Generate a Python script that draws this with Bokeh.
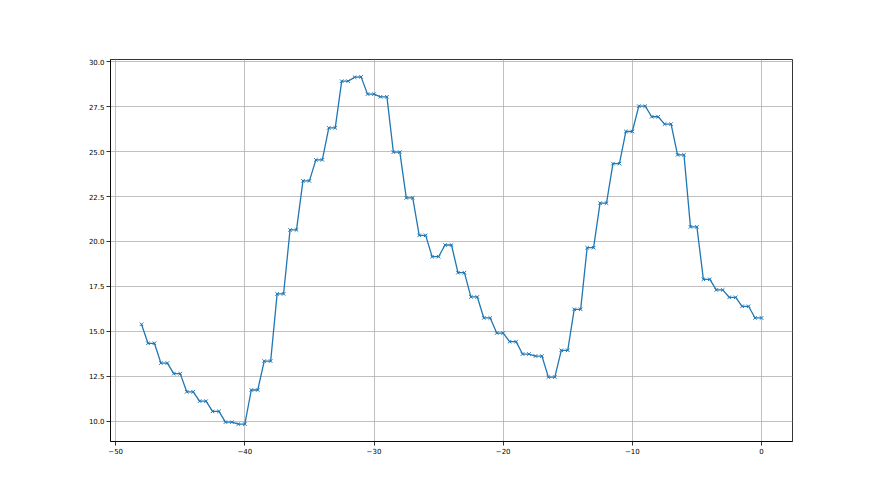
from bokeh.plotting import figure
from bokeh.models import FixedTicker, Range1d
from bokeh.embed import file_html
from bokeh.resources import INLINE

hours = [-48.0,
         -47.5, -47.0, -46.5, -46.0, -45.5, -45.0, -44.5, -44.0, -43.5, -43.0,
         -42.5, -42.0, -41.5, -41.0, -40.5, -40.0, -39.5, -39.0, -38.5, -38.0,
         -37.5, -37.0, -36.5, -36.0, -35.5, -35.0, -34.5, -34.0, -33.5, -33.0,
         -32.5, -32.0, -31.5, -31.0, -30.5, -30.0, -29.5, -29.0, -28.5, -28.0,
         -27.5, -27.0, -26.5, -26.0, -25.5, -25.0, -24.5, -24.0, -23.5, -23.0,
         -22.5, -22.0, -21.5, -21.0, -20.5, -20.0, -19.5, -19.0, -18.5, -18.0,
         -17.5, -17.0, -16.5, -16.0, -15.5, -15.0, -14.5, -14.0, -13.5, -13.0,
         -12.5, -12.0, -11.5, -11.0, -10.5, -10.0, -9.5, -9.0, -8.5, -8.0,
         -7.5, -7.0, -6.5, -6.0, -5.5, -5.0, -4.5, -4.0, -3.5, -3.0,
         -2.5, -2.0, -1.5, -1.0, -0.5, 0.0]

values = [15.39,
          14.33, 14.33, 13.23, 13.23, 12.64, 12.64, 11.63, 11.63, 11.11, 11.11,
          10.54, 10.54, 9.94, 9.94, 9.83, 9.83, 11.73, 11.73, 13.34, 13.34,
          17.08, 17.08, 20.64, 20.64, 23.37, 23.37, 24.54, 24.54, 26.32, 26.32,
          28.92, 28.92, 29.14, 29.16, 28.20, 28.20, 28.05, 28.05, 24.97, 24.97,
          22.42, 22.42, 20.34, 20.34, 19.15, 19.15, 19.80, 19.80, 18.26, 18.26,
          16.91, 16.91, 15.74, 15.74, 14.90, 14.90, 14.42, 14.42, 13.73, 13.73,
          13.62, 13.62, 12.45, 12.45, 13.94, 13.94, 16.22, 16.22, 19.65, 19.65,
          22.13, 22.13, 24.33, 24.33, 26.12, 26.12, 27.53, 27.53, 26.94, 26.94,
          26.53, 26.53, 24.82, 24.82, 20.81, 20.81, 17.89, 17.89, 17.30, 17.30,
          16.89, 16.89, 16.39, 16.39, 15.74, 15.74]

x_ticks = [-50, -40, -30, -20, -10, 0]
x_labels = ["\u221250", "\u221240", "\u221230", "\u221220", "\u221210", "0"]
y_ticks = [10.0, 12.5, 15.0, 17.5, 20.0, 22.5, 25.0, 27.5, 30.0]
y_labels = ["10.0", "12.5", "15.0", "17.5", "20.0", "22.5", "25.0", "27.5", "30.0"]

xmin, xmax = min(hours), max(hours)
ymin, ymax = min(values), max(values)
xm = (xmax - xmin) * 0.05
ym = (ymax - ymin) * 0.05

p = figure(width=872, height=487, output_backend="svg", toolbar_location=None,
           x_range=Range1d(xmin - xm, xmax + xm), y_range=Range1d(ymin - ym, ymax + ym),
           min_border_left=110, min_border_right=80, min_border_top=59, min_border_bottom=46)
p.background_fill_color = "white"
p.border_fill_color = "white"
p.outline_line_color = "black"
p.outline_line_width = 0.8
p.outline_line_alpha = 1.0

p.line(hours, values, line_color="#1f77b4", line_width=1.3)
p.scatter(hours, values, marker="x", size=5, line_color="#1f77b4", line_width=1.0)

for ax, ticks, labels in ((p.xaxis[0], x_ticks, x_labels), (p.yaxis[0], y_ticks, y_labels)):
    ax.ticker = FixedTicker(ticks=ticks)
    ax.major_label_overrides = {t: l for t, l in zip(ticks, labels)}
    ax.minor_tick_line_color = None
    ax.major_tick_out = 4
    ax.major_tick_in = 0
    ax.major_tick_line_color = "black"
    ax.major_tick_line_width = 0.8
    ax.axis_line_color = "black"
    ax.axis_line_width = 0.8
    ax.major_label_text_font = "DejaVu Sans"
    ax.major_label_text_font_size = "7px"
    ax.major_label_text_color = "black"
    ax.major_label_standoff = 2

for g in (p.xgrid[0], p.ygrid[0]):
    g.grid_line_color = "#b0b0b0"
    g.grid_line_width = 0.8
p.xgrid[0].ticker = FixedTicker(ticks=x_ticks)
p.ygrid[0].ticker = FixedTicker(ticks=y_ticks)

open("out.html", "w").write(file_html(p, INLINE))
